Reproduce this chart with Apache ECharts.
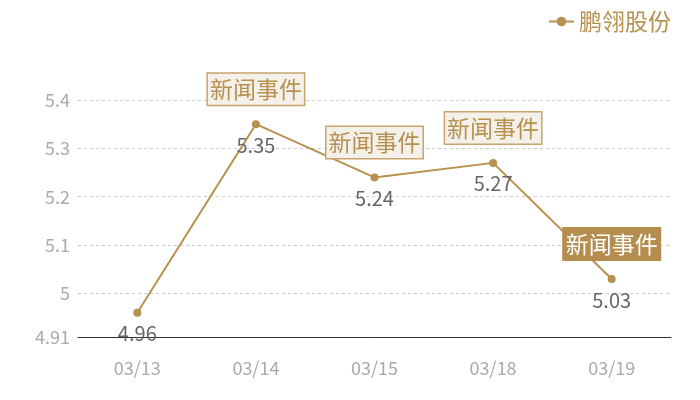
<!DOCTYPE html>
<html><head><meta charset="utf-8">
<script src="https://cdn.jsdelivr.net/npm/echarts@6/dist/echarts.min.js"></script>
<style>html,body{margin:0;padding:0;background:#fff}#c{width:700px;height:400px}</style>
</head><body><div id="c"></div>
<script>
const categories = ['03/13', '03/14', '03/15', '03/18', '03/19'];
const values = [4.96, 5.35, 5.24, 5.27, 5.03];
const seriesName = '鹏翎股份';
const eventIndices = [1, 2, 3, 4];
const eventText = '新闻事件';
const highlightedEvent = 4;

const gold = '#b8914f';
const font = '"Noto Sans CJK SC", "Noto Sans", sans-serif';

const markData = eventIndices.map(i => {
  const hi = i === highlightedEvent;
  return {
    coord: [i, values[i]],
    label: {
      color: hi ? '#ffffff' : gold,
      backgroundColor: hi ? '#b58d4e' : '#f4f0ea',
      borderColor: hi ? '#b58d4e' : '#c9a46b',
    }
  };
});

const chart = echarts.init(document.getElementById('c'));
chart.setOption({
  animation: false,
  textStyle: { fontFamily: font },
  legend: {
    right: 24, top: 5,
    itemWidth: 25, itemHeight: 12,
    itemGap: 6,
    textStyle: { color: gold, fontSize: 23, fontFamily: font },
    data: [seriesName],
  },
  grid: { left: 78, right: 29, top: 100, bottom: 63 },
  xAxis: {
    type: 'category',
    data: categories,
    boundaryGap: true,
    axisLine: { lineStyle: { color: '#333', width: 1 } },
    axisTick: { show: false },
    axisLabel: { color: '#aaa', fontSize: 18, margin: 22, fontFamily: font },
  },
  yAxis: {
    type: 'value',
    min: 4.91, max: 5.4,
    axisLine: { show: false },
    axisTick: { show: false },
    axisLabel: { color: '#aaa', fontSize: 18, margin: 8, fontFamily: font },
    splitLine: { lineStyle: { color: '#ccc', type: [3, 3] } },
  },
  series: [{
    name: seriesName,
    type: 'line',
    data: values,
    symbol: 'circle',
    symbolSize: 8,
    itemStyle: { color: gold },
    lineStyle: { color: gold, width: 2 },
    label: {
      show: true, position: 'bottom', distance: 7,
      color: '#666', fontSize: 20, fontFamily: font,
    },
    markPoint: {
      symbol: 'circle',
      symbolSize: 1,
      itemStyle: { color: 'rgba(0,0,0,0)' },
      label: {
        show: true,
        formatter: eventText,
        offset: [0, -35],
        fontSize: 23,
        fontFamily: font,
        borderWidth: 1.5,
        padding: [4, 2, 4, 2],
      },
      data: markData,
    },
  }],
});
</script></body></html>
